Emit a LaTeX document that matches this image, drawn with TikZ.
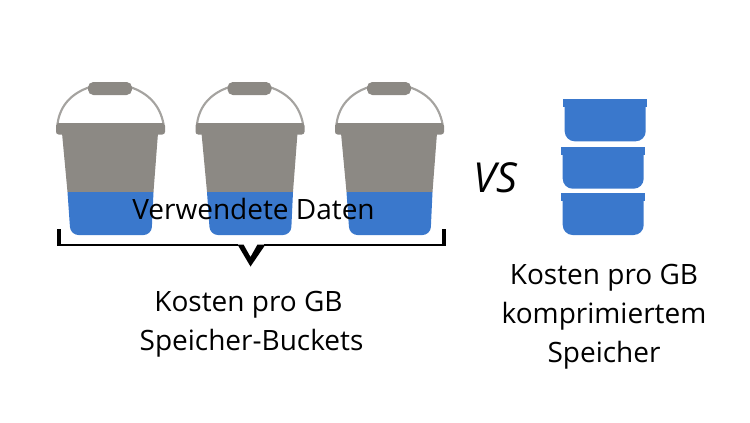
\documentclass[tikz,border=0pt]{standalone}
\usepackage{fontspec}
\setmainfont{Open Sans}
\definecolor{pailgray}{HTML}{8C8984}
\definecolor{handlegray}{HTML}{A5A3A0}
\definecolor{fillblue}{HTML}{3A78CC}
\tikzset{label/.style={align=center,font=\fontsize{21pt}{29.3pt}\selectfont,text=black,inner sep=0pt}}
\begin{document}
\begin{tikzpicture}[x=0.75pt,y=-0.75pt]
  \useasboundingbox (0,0) rectangle (750,422);
  \foreach \dx in {0,139.5,279} {
    \begin{scope}[xshift=\dx*0.75pt]
      \draw[handlegray,line width=1.6pt] (57.5,124) .. controls (60,105) and (72,93) .. (90,87) -- (130,87) .. controls (148,93) and (160,105) .. (163.5,124);
      \fill[pailgray,rounded corners=4pt] (88,82) rectangle (132,95);
      \fill[pailgray,rounded corners=2pt] (56,123) rectangle (165,134.5);
      \fill[pailgray] (62,133) -- (158,133) -- (153.5,192) -- (67.5,192) -- cycle;
      \fill[fillblue] (67.5,192) -- (153.5,192) [rounded corners=6pt] -- (151.5,235) -- (70.5,235) [sharp corners] -- cycle;
    \end{scope}
  }
  \foreach \x/\y in {563/99.3,561/146.7,561/193} {
    \fill[fillblue] (\x,\y) rectangle ++(84,8);
    \fill[fillblue] (\x+1.7,\y+5) -- (\x+82.7,\y+5) [rounded corners=7.5pt] -- (\x+82.7,\y+42) -- (\x+1.7,\y+42) [sharp corners] -- cycle;
  }
  % bracket under the buckets
  \draw[black,line width=1.3pt] (57,245) -- (238,245);
  \draw[black,line width=1.3pt] (264,245) -- (446,245);
  \fill[black] (56.5,229) rectangle (61,245.5);
  \fill[black] (441.5,229) rectangle (446,245.5);
  \fill[black] (237.5,244.5) -- (243.5,244.5) -- (250.5,257) -- (257.5,244.5) -- (265.5,244.5) -- (250.5,266.5) -- cycle;
  \node[label] (usedtext) at (253.5,209) {Verwendete Daten};
  \node[label,anchor=north] (bucketcost) at (251.5,291) {Kosten pro GB\hspace*{4.5pt}\\ Speicher-Buckets};
  \node[label,anchor=north] (packedcost) at (604,264) {Kosten pro GB\\ komprimiertem\\ Speicher};
  \node[label,font=\fontsize{31pt}{34pt}\selectfont\itshape] (versus) at (495.5,178) {VS};
\end{tikzpicture}
\end{document}
